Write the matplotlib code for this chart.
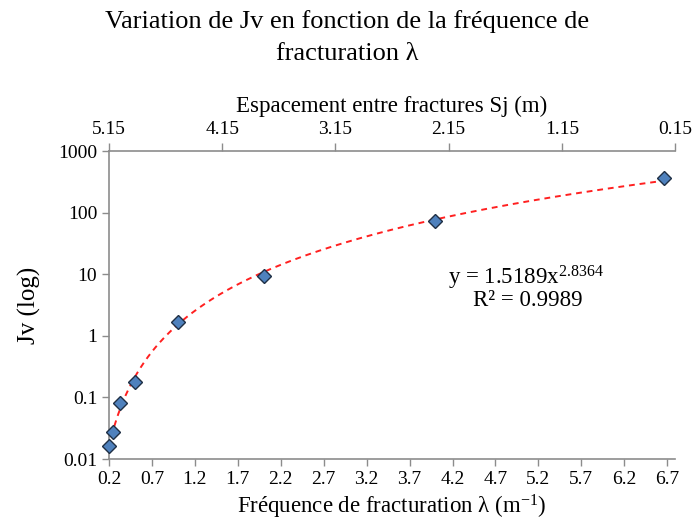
import numpy as np
import matplotlib
matplotlib.use("Agg")
import matplotlib.pyplot as plt

plt.rcParams['font.family'] = ['Liberation Serif', 'DejaVu Serif']
plt.rcParams['mathtext.fontset'] = 'custom'
plt.rcParams['mathtext.rm'] = 'Liberation Serif'
plt.rcParams['mathtext.it'] = 'Liberation Serif'

# Data
lam = [0.2, 0.25, 0.333, 0.5, 1.0, 2.0, 4.0, 6.667]
jv = [0.0163, 0.0277, 0.080, 0.176, 1.69, 9.46, 73.0, 360.0]
fit_a = 1.5189
fit_b = 2.8364
r2 = 0.9989
bottom_ticks = [0.2, 0.7, 1.2, 1.7, 2.2, 2.7, 3.2, 3.7, 4.2, 4.7, 5.2, 5.7, 6.2, 6.7]
top_ticks = [5.15, 4.15, 3.15, 2.15, 1.15, 0.15]
y_ticks = [0.01, 0.1, 1, 10, 100, 1000]
y_labels = ['0.01', '0.1', '1', '10', '100', '1000']

W, H = 695, 527
fig = plt.figure(figsize=(W / 100, H / 100), dpi=100)
ax = fig.add_axes([109 / W, 1 - 459 / H, (675 - 109) / W, (459 - 151) / H])

grey = '#8c8c8c'
xs = np.linspace(min(lam), max(lam), 300)
ax.plot(xs, fit_a * xs ** fit_b, color='#ff2020', linestyle=(0, (3, 2.5)), lw=1.4, zorder=2)
ax.plot(lam, jv, linestyle='none', marker='D', markersize=7, markerfacecolor='#4f81bd',
        markeredgecolor='#1f2f45', markeredgewidth=1.0, zorder=3, clip_on=False)

ax.set_yscale('log')
ax.set_ylim(0.01, 1000)
ax.set_xlim(0.2, 6.79)
ax.set_xticks(bottom_ticks)
ax.set_xticklabels([f'{t:.1f}' for t in bottom_ticks])
ax.set_yticks(y_ticks)
ax.set_yticklabels(y_labels)
ax.yaxis.set_minor_locator(matplotlib.ticker.NullLocator())
ax.tick_params(axis='both', direction='out', length=5, width=1, color=grey, labelsize=14)
ax.tick_params(axis='x', pad=4)
for s in ['left', 'bottom', 'top']:
    ax.spines[s].set_color(grey)
    ax.spines[s].set_linewidth(1.2)
ax.spines['right'].set_visible(False)
ax.set_ylabel('Jv (log)', fontsize=18, labelpad=12)
ax.set_xlabel('Fréquence de fracturation λ (m$^{\\mathrm{-1}}$)', fontsize=16.5, labelpad=3)

ax2 = ax.twiny()
ax2.set_xlim(5.15, 0.15)
ax2.set_xticks(top_ticks)
ax2.set_xticklabels([f'{t:.2f}' for t in top_ticks])
ax2.tick_params(axis='x', direction='out', length=6, width=1, color=grey, labelsize=14, pad=3)
for s in ['left', 'bottom', 'top', 'right']:
    ax2.spines[s].set_visible(False)
ax2.set_xlabel('Espacement entre fractures Sj (m)', fontsize=16.5, labelpad=7)

ax.text(526, 527 - 278, 'y = 1.5189x$^{%s}$' % str(fit_b), transform=None,
        fontsize=16.5, ha='center', va='center')
ax.text(528, 527 - 301, 'R² = %s' % str(r2), transform=None,
        fontsize=16.5, ha='center', va='center')

fig.text(0.5, 1 - 22 / H, 'Variation de Jv en fonction de la fréquence de', fontsize=19,
         ha='center', va='center')
fig.text(0.5, 1 - 54 / H, 'fracturation λ', fontsize=19, ha='center', va='center')

fig.savefig('out.png', dpi=100)
